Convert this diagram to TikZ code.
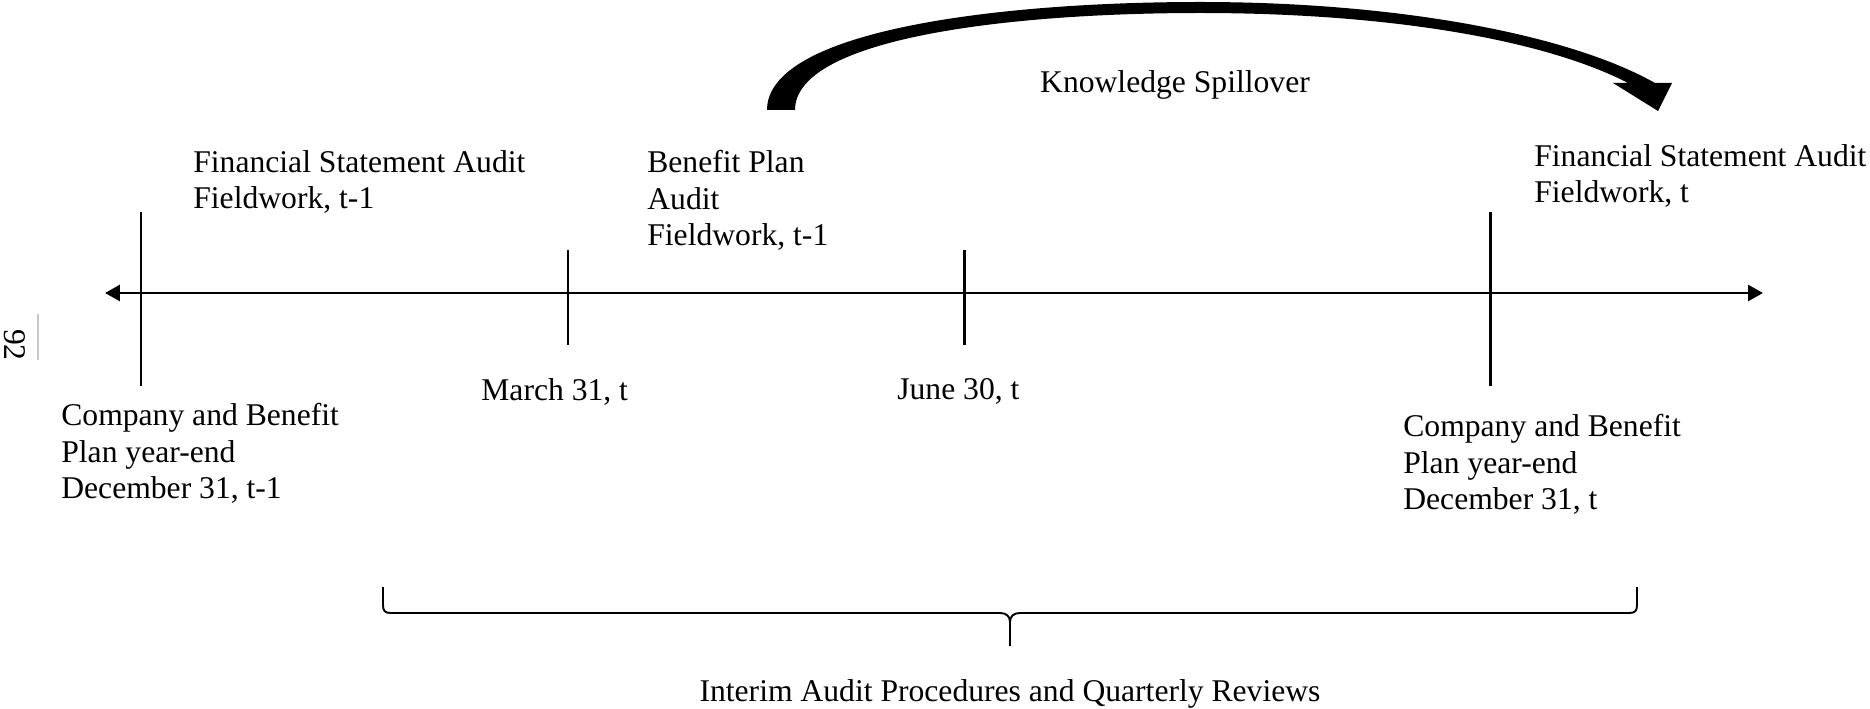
\documentclass[tikz,border=0pt]{standalone}
\usepackage{fontspec}
\setmainfont{Liberation Serif}
\usepackage{tikz}
\usetikzlibrary{arrows.meta, positioning}
\definecolor{pgrey}{HTML}{C8C8C8}

\begin{document}
\begin{tikzpicture}[x=0.02cm, y=-0.02cm,
  lbl/.style={font=\fontsize{18}{20.8}\selectfont, inner sep=0pt, align=left},
  tickline/.style={line width=1.7pt},
  axisline/.style={line width=1.7pt, {Triangle[length=0.3cm, width=0.32cm]}-{Triangle[length=0.3cm, width=0.32cm]}},
  braceline/.style={line width=1.1pt}]
\useasboundingbox (0,0) rectangle (1870,709);

\coordinate (ax-l) at (105,293);
\coordinate (ax-r) at (1763,293);
\draw[axisline] (ax-l) -- (ax-r);

\coordinate (dec-a top) at (141,212);
\coordinate (dec-a bot) at (141,386);
\coordinate (mar top) at (568,250);
\coordinate (mar bot) at (568,345);
\coordinate (jun top) at (964,250);
\coordinate (jun bot) at (964,345);
\coordinate (dec-b top) at (1490,212);
\coordinate (dec-b bot) at (1490,386);
\draw[tickline] (dec-a top) -- (dec-a bot);
\draw[tickline] (mar top) -- (mar bot);
\draw[tickline] (jun top) -- (jun bot);
\draw[tickline] (dec-b top) -- (dec-b bot);

\node[lbl, anchor=north west] (fs-prev) at (193,150) {Financial Statement Audit\\Fieldwork, t-1};
\node[lbl, anchor=north west] (bp-prev) at (647,150) {Benefit Plan\\Audit\\Fieldwork, t-1};
\node[lbl, anchor=north west] (fs-cur) at (1534,144) {Financial Statement Audit\\Fieldwork, t};
\node[lbl, anchor=north west] (ye-prev) at (61,403) {Company and Benefit\\Plan year-end\\December 31, t-1};
\node[lbl, anchor=north west] (ye-cur) at (1403,414) {Company and Benefit\\Plan year-end\\December 31, t};
\node[lbl, anchor=north west] (mar) at (481,378) {March 31, t};
\node[lbl, anchor=north west] (jun) at (897,378) {June 30, t};

\fill (767,110) .. controls (767,30) and (1000,2) .. (1200,2)
  .. controls (1400,2) and (1570,35) .. (1655,83) -- (1672,83) -- (1658,111)
  -- (1613,83) -- (1628,83) .. controls (1545,40) and (1390,13) .. (1200,13)
  .. controls (1010,13) and (795,38) .. (795,110) -- cycle;
\node[lbl, anchor=north] (spill) at (1175,70) {Knowledge Spillover};

\coordinate (br-l) at (383,587);
\coordinate (br-r) at (1637,587);
\coordinate (br-tip) at (1010,646);
\draw[braceline] (br-l) -- (383,605) .. controls (383,611) and (385,613) .. (391,613)
  -- (1000,613) .. controls (1006,613) and (1010,616) .. (1010,622) -- (br-tip);
\draw[braceline] (br-r) -- (1637,605) .. controls (1637,611) and (1635,613) .. (1629,613)
  -- (1020,613) .. controls (1014,613) and (1010,616) .. (1010,622);
\node[lbl, anchor=north] (interim) at (1010,679) {Interim Audit Procedures and Quarterly Reviews};

\node[lbl, rotate=-90] (pageno) at (15,345) {92};
\draw[pgrey, line width=0.6pt] (38,314) -- (38,360);
\end{tikzpicture}
\end{document}
